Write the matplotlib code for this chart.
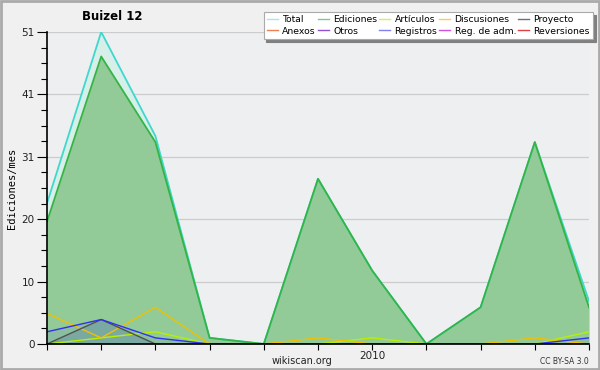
import numpy as np
import matplotlib
matplotlib.use("Agg")
import matplotlib.pyplot as plt
from matplotlib.lines import Line2D

months = ["2009-07", "2009-08", "2009-09", "2009-10", "2009-11", "2009-12",
          "2010-01", "2010-02", "2010-03", "2010-04", "2010-05"]
tick_labels = ["", "", "", "", "", "", "2010", "", "", "", ""]

total       = [23, 51, 34, 1, 0, 27, 12, 0, 6, 33, 7]
ediciones   = [20, 47, 33, 1, 0, 27, 12, 0, 6, 33, 6]
articulos   = [0, 1, 2, 0, 0, 0, 1, 0, 0, 0, 2]
discusiones = [5, 1, 6, 0, 0, 1, 0, 0, 0, 1, 0]
proyecto    = [0, 4, 0, 0, 0, 0, 0, 0, 0, 0, 0]
anexos      = [0, 0, 0, 0, 0, 0, 0, 0, 0, 0, 0]
otros       = [0, 0, 0, 0, 0, 0, 0, 0, 0, 0, 0]
registros   = [2, 4, 1, 0, 0, 0, 0, 0, 0, 0, 1]
reg_adm     = [0, 0, 0, 0, 0, 0, 0, 0, 0, 0, 0]
reversiones = [0, 0, 0, 0, 0, 0, 0, 0, 0, 0, 0]

series_names = ["Total", "Ediciones", "Artículos", "Discusiones", "Proyecto",
                "Anexos", "Otros", "Registros", "Reg. de adm.", "Reversiones"]
series_vals = [total, ediciones, articulos, discusiones, proyecto,
               anexos, otros, registros, reg_adm, reversiones]
line_colors = ["#3fd8cc", "#34b444", "#b8f000", "#f0c000", "#505050",
               "#f07040", "#8030d0", "#3030f0", "#d030e0", "#e02020"]
fill_colors = ["#d6efe8", "#92cb98", None, None, "#5a8aa0",
               None, None, "#6060e0", None, None]
fill_alpha = [1.0, 1.0, 0, 0, 0.35, 0, 0, 0.12, 0, 0]
legend_colors = ["#a8e8e4", "#80c890", "#d0ee70", "#f8cc60", "#707070",
                 "#f08050", "#9050d0", "#8080f0", "#d050e0", "#e04040"]

W, H = 600, 370
fig = plt.figure(figsize=(W / 100, H / 100), dpi=100)
fig.patch.set_facecolor("#f0f0f0")
fig.add_artist(plt.Rectangle((0.0015, 0.002), 0.997, 0.995, transform=fig.transFigure,
                             fill=False, edgecolor="#aaaaaa", linewidth=2))

ax = fig.add_axes([47 / W, (H - 344) / H, (589 - 47) / W, (344 - 32) / H])
ax.set_facecolor("#eeeff1")
x = np.arange(len(months))

for i, (name, vals) in enumerate(zip(series_names, series_vals)):
    v = np.array(vals, dtype=float)
    if fill_colors[i] is not None and fill_alpha[i] > 0:
        ax.fill_between(x, 0, v, color=fill_colors[i], alpha=fill_alpha[i],
                        linewidth=0, zorder=1 + i * 0.01)
    ax.plot(x, v, color=line_colors[i], linewidth=1.3 if i < 2 else 1.0,
            zorder=1.5 + i * 0.01)

ymax = 51
ax.set_xlim(0, len(months) - 1)
ax.set_ylim(0, ymax)
major = [ymax * k / 5 for k in range(6)]
ax.set_yticks(major)
ax.set_yticklabels([str(int(round(m))) for m in major], fontsize=7.5, color="#222222")
ax.set_yticks([ymax * k / 20 for k in range(21)], minor=True)
ax.yaxis.grid(True, which="major", color="#cccccc", linewidth=0.9, zorder=0)
ax.set_axisbelow(True)
ax.tick_params(axis="y", which="major", length=7, width=0.8, pad=2)
ax.tick_params(axis="y", which="minor", length=4, width=0.8)
ax.set_xticks(x)
ax.set_xticklabels(tick_labels, fontsize=7.5, color="#222222")
ax.tick_params(axis="x", which="major", length=4, width=0.8, pad=1)
for s in ["top", "right"]:
    ax.spines[s].set_visible(False)
for s in ["left", "bottom"]:
    ax.spines[s].set_linewidth(1.2)
    ax.spines[s].set_zorder(5)

fig.text(112 / W, 1 - 17 / H, "Buizel 12", fontsize=8.5, fontweight="bold",
         ha="center", va="center")
fig.text(12 / W, 1 - 188 / H, "Ediciones/mes", rotation=90, fontsize=7.5,
         family="DejaVu Sans Mono", ha="center", va="center")
fig.text(302 / W, 1 - 361 / H, "wikiscan.org", fontsize=7, ha="center", va="center",
         color="#222222")
fig.text(589 / W, 1 - 362 / H, "CC BY-SA 3.0", fontsize=5.5, ha="right", va="center",
         color="#333333")

handles = [Line2D([0], [0], color=c, linewidth=1.0) for c in legend_colors]
order = [0, 5, 1, 6, 2, 7, 3, 8, 4, 9]
leg = fig.legend([handles[i] for i in order], [series_names[i] for i in order],
                 ncol=5, loc="upper right", bbox_to_anchor=(593 / W, 1 - 12 / H),
                 fontsize=6.7, frameon=True, fancybox=False,
                 shadow={"color": "#808080", "alpha": 1},
                 handlelength=1.2, handletextpad=0.45, columnspacing=0.2,
                 labelspacing=0.25, borderpad=0.35, borderaxespad=0)
leg.get_frame().set_edgecolor("#aaaaaa")
leg.get_frame().set_linewidth(0.8)

fig.savefig("out.png", dpi=100, facecolor=fig.get_facecolor())
